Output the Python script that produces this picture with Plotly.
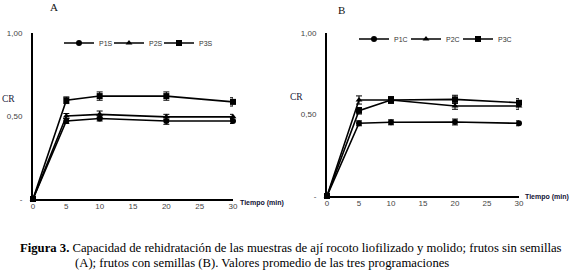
import plotly.graph_objects as go

tiempo = [0, 5, 10, 20, 30]

# Panel A: frutos sin semillas
p1s = [0, 0.47, 0.485, 0.47, 0.47]
p2s = [0, 0.50, 0.51, 0.495, 0.495]
p3s = [0, 0.595, 0.62, 0.62, 0.585]
p1s_err = [0, 0.015, 0.015, 0.02, 0.015]
p2s_err = [0, 0.015, 0.02, 0.015, 0.015]
p3s_err = [0, 0.02, 0.025, 0.025, 0.025]

# Panel B: frutos con semillas
p1c = [0, 0.446, 0.452, 0.454, 0.446]
p2c = [0, 0.589, 0.589, 0.552, 0.552]
p3c = [0, 0.523, 0.589, 0.593, 0.572]
p1c_err = [0, 0.015, 0.015, 0.018, 0.015]
p2c_err = [0, 0.025, 0.02, 0.02, 0.02]
p3c_err = [0, 0.02, 0.02, 0.025, 0.025]

names_a = ["P1S", "P2S", "P3S"]
names_b = ["P1C", "P2C", "P3C"]
symbols = ["circle", "triangle-up", "square"]

ytick_vals = [0, 0.5, 1]
ytick_text = ["-", "0,50", "1,00"]
xtick_vals = [0, 5, 10, 15, 20, 25, 30]

W, H = 573, 274
fig = go.Figure()

legend_ids = ["legend", "legend2", "legend3", "legend4", "legend5", "legend6"]
# left edge of each legend line (px) and vertical centre
leg_x = [63, 113, 163, 358, 410, 462]
leg_y = [43, 43, 43, 39, 39, 39]

def add(x, y, err, name, sym, xa, ya, leg):
    fig.add_trace(go.Scatter(
        x=x, y=y, name=name, mode="lines+markers",
        line=dict(color="black", width=1.6),
        marker=dict(symbol=sym, size=6, color="black"),
        error_y=dict(type="data", array=err, visible=True, color="black",
                     thickness=1, width=3),
        xaxis=xa, yaxis=ya, legend=leg, cliponaxis=False,
    ))

k = 0
for y, e, n, s in zip([p1s, p2s, p3s], [p1s_err, p2s_err, p3s_err], names_a, symbols):
    add(tiempo, y, e, n, s, "x", "y", legend_ids[k]); k += 1
for y, e, n, s in zip([p1c, p2c, p3c], [p1c_err, p2c_err, p3c_err], names_b, symbols):
    add(tiempo, y, e, n, s, "x2", "y2", legend_ids[k]); k += 1

tickfont = dict(family="Liberation Sans", size=8, color="#444")

xax = dict(range=[0, 30], showline=True, linecolor="black", linewidth=2,
           tickvals=xtick_vals, ticks="", showgrid=False, zeroline=False,
           tickfont=tickfont, ticklabelstandoff=-2, automargin=False)
yax = dict(range=[0, 1], showline=True, linecolor="black", linewidth=2,
           tickvals=ytick_vals, ticktext=ytick_text, ticks="", showgrid=False,
           zeroline=False, tickfont=tickfont, ticklabelstandoff=7, automargin=False)

legfont = dict(family="Liberation Sans", size=7, color="#333")

layout_legends = {}
for lid, lx, ly in zip(legend_ids, leg_x, leg_y):
    layout_legends[lid] = dict(orientation="h", x=(lx - 4) / W, y=1 - ly / H,
                               xanchor="left", yanchor="middle", font=legfont,
                               bgcolor="rgba(0,0,0,0)", itemwidth=30)

fig.update_layout(
    width=W, height=H,
    margin=dict(l=0, r=0, t=0, b=0, autoexpand=False),
    paper_bgcolor="white", plot_bgcolor="white",
    xaxis=dict(xax, domain=[33 / W, 233 / W], anchor="y"),
    yaxis=dict(yax, domain=[1 - 199 / H, 1 - 33 / H], anchor="x"),
    xaxis2=dict(xax, domain=[327 / W, 519 / W], anchor="y2"),
    yaxis2=dict(yax, domain=[1 - 196 / H, 1 - 33 / H], anchor="x2"),
    showlegend=True,
    **layout_legends,
)

serif = "Liberation Serif"
anns = [
    dict(text="A", x=54 / W, y=1 - 7 / H, font=dict(family=serif, size=11, color="#111")),
    dict(text="B", x=341 / W, y=1 - 10 / H, font=dict(family=serif, size=11, color="#111")),
    dict(text="CR", x=8.5 / W, y=1 - 99 / H, font=dict(family=serif, size=9.5, color="#1a1a3a")),
    dict(text="CR", x=296.5 / W, y=1 - 97 / H, font=dict(family=serif, size=9.5, color="#1a1a3a")),
    dict(text="<b>Tiempo (min)</b>", x=262 / W, y=1 - 203 / H,
         font=dict(family="Liberation Sans", size=7, color="#111133")),
    dict(text="<b>Tiempo (min)</b>", x=547 / W, y=1 - 197 / H,
         font=dict(family="Liberation Sans", size=7, color="#111133")),
]
for a in anns:
    fig.add_annotation(xref="paper", yref="paper", showarrow=False,
                       xanchor="center", yanchor="middle", **a)

fig.add_annotation(xref="paper", yref="paper", showarrow=False,
                   x=18 / W, y=1 - 248 / H, xanchor="left", yanchor="middle",
                   text="<b>Figura 3.</b> Capacidad de rehidratación de las muestras de ají rocoto liofilizado y molido; frutos sin semillas",
                   font=dict(family=serif, size=12.7, color="black"))
fig.add_annotation(xref="paper", yref="paper", showarrow=False,
                   x=73 / W, y=1 - 263 / H, xanchor="left", yanchor="middle",
                   text="(A); frutos con semillas (B). Valores promedio de las tres programaciones",
                   font=dict(family=serif, size=12.7, color="black"))

fig.write_html("out.html", config={"displayModeBar": False},
               post_script="document.body.style.margin='0';document.body.style.overflow='hidden';")
